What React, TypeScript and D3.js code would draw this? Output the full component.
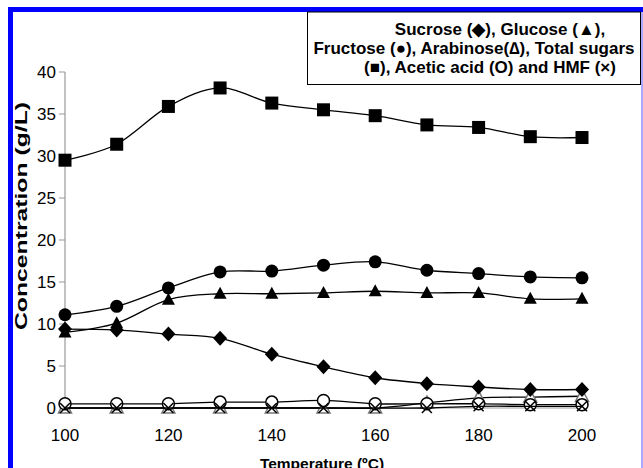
import React from "react";
import * as d3 from "d3";

const temps = [100, 110, 120, 130, 140, 150, 160, 170, 180, 190, 200];
const sucrose = [9.4, 9.3, 8.8, 8.3, 6.4, 4.9, 3.6, 2.9, 2.5, 2.2, 2.2];
const glucose = [9.0, 10.1, 12.9, 13.6, 13.6, 13.7, 13.9, 13.7, 13.7, 13.0, 13.0];
const fructose = [11.1, 12.1, 14.3, 16.2, 16.3, 17.0, 17.4, 16.4, 16.0, 15.6, 15.5];
const arabinose = [0, 0, 0, 0, 0, 0, 0, 0.6, 1.2, 1.3, 1.4];
const totalSugars = [29.5, 31.4, 35.9, 38.1, 36.3, 35.5, 34.8, 33.7, 33.4, 32.3, 32.2];
const aceticAcid = [0.5, 0.5, 0.5, 0.7, 0.7, 0.9, 0.5, 0.5, 0.5, 0.4, 0.4];
const hmf = [0, 0, 0, 0, 0, 0, 0, 0, 0.2, 0.2, 0.2];

const xTicks = [100, 120, 140, 160, 180, 200];
const yTicks = [0, 5, 10, 15, 20, 25, 30, 35, 40];
const legendLines = [
  "Sucrose (\u25C6), Glucose (\u25B2),",
  "Fructose (\u25CF), Arabinose(\u2206), Total sugars",
  "(\u25A0), Acetic acid (O) and HMF (\u00D7)",
];

const font = "'Liberation Sans', Arial, sans-serif";

type Kind = "square" | "circle" | "triangle" | "diamond" | "ocircle" | "otriangle" | "cross";

const series: { name: string; values: number[]; kind: Kind }[] = [
  { name: "Arabinose", values: arabinose, kind: "otriangle" },
  { name: "Acetic acid", values: aceticAcid, kind: "ocircle" },
  { name: "HMF", values: hmf, kind: "cross" },
  { name: "Sucrose", values: sucrose, kind: "diamond" },
  { name: "Glucose", values: glucose, kind: "triangle" },
  { name: "Fructose", values: fructose, kind: "circle" },
  { name: "Total sugars", values: totalSugars, kind: "square" },
];

function Marker({ kind, x, y }: { kind: Kind; x: number; y: number }) {
  switch (kind) {
    case "square":
      return <rect x={x - 6.5} y={y - 6.5} width={13} height={13} fill="#000" />;
    case "circle":
      return <circle cx={x} cy={y} r={6.5} fill="#000" />;
    case "triangle":
      return <path d={`M${x},${y - 7}L${x + 6.5},${y + 5}L${x - 6.5},${y + 5}Z`} fill="#000" />;
    case "diamond":
      return <path d={`M${x},${y - 7.5}L${x + 7},${y}L${x},${y + 7.5}L${x - 7},${y}Z`} fill="#000" />;
    case "ocircle":
      return <circle cx={x} cy={y} r={6} fill="#fff" stroke="#000" strokeWidth={1.5} />;
    case "otriangle":
      return (
        <path
          d={`M${x},${y - 7}L${x + 6.5},${y + 5}L${x - 6.5},${y + 5}Z`}
          fill="#fff"
          stroke="#777"
          strokeWidth={1.5}
        />
      );
    case "cross":
      return (
        <path
          d={`M${x - 5},${y - 5}L${x + 5},${y + 5}M${x + 5},${y - 5}L${x - 5},${y + 5}`}
          stroke="#000"
          strokeWidth={1.5}
        />
      );
  }
}

export default function App() {
  const width = 643;
  const height = 468;
  const x = d3.scaleLinear().domain([100, 200]).range([65, 582]);
  const y = d3.scaleLinear().domain([0, 40]).range([408, 72]);

  const line = d3
    .line<number>()
    .x((_, i) => x(temps[i]))
    .y((d) => y(d))
    .curve(d3.curveCardinal.tension(0));

  return (
    <svg
      width={width}
      height={height}
      style={{ position: "absolute", left: 0, top: 0, background: "#fff" }}
    >
      {/* frame */}
      <rect x={8} y={7} width={5} height={height - 7} fill="#0000ff" />
      <rect x={8} y={7} width={width - 8} height={5} fill="#0000ff" />
      <rect x={641} y={12} width={2} height={height - 12} fill="#aaaaff" />

      {/* y axis */}
      <line x1={65} x2={65} y1={y(40)} y2={y(0)} stroke="#999" strokeWidth={1.2} />
      {yTicks.map((t) => (
        <g key={t}>
          <line x1={59} x2={65} y1={y(t)} y2={y(t)} stroke="#999" strokeWidth={1} />
          <text
            x={56}
            y={y(t)}
            dy="0.36em"
            textAnchor="end"
            fontFamily={font}
            fontSize={17}
            fill="#000"
          >
            {t}
          </text>
        </g>
      ))}
      <line x1={65} x2={582} y1={y(0)} y2={y(0)} stroke="#999" strokeWidth={1.2} />
      {xTicks.map((t) => (
        <text
          key={t}
          x={x(t)}
          y={441}
          textAnchor="middle"
          fontFamily={font}
          fontSize={17}
          fill="#000"
        >
          {t}
        </text>
      ))}

      {/* axis titles */}
      <text
        transform={`translate(27,216) rotate(-90)`}
        textAnchor="middle"
        fontFamily={font}
        fontSize={16}
        fontWeight="bold"
        fill="#000"
        textLength={228}
        lengthAdjust="spacingAndGlyphs"
      >
        Concentration (g/L)
      </text>
      <text
        x={322}
        y={469}
        textAnchor="middle"
        fontFamily={font}
        fontSize={15.5}
        fontWeight="bold"
        fill="#000"
      >
        Temperature (ºC)
      </text>

      {/* series */}
      {series.map((s) => (
        <g key={s.name}>
          <path d={line(s.values) ?? ""} fill="none" stroke="#000" strokeWidth={1.3} />
          {s.values.map((v, i) => (
            <Marker key={i} kind={s.kind} x={x(temps[i])} y={y(v)} />
          ))}
        </g>
      ))}

      {/* legend */}
      <rect x={307.5} y={12} width={333} height={72.5} fill="#fff" stroke="#000" strokeWidth={1} />
      {legendLines.map((l, i) => (
        <text
          key={i}
          x={[500, 474, 490][i]}
          y={35 + i * 19}
          textAnchor="middle"
          fontFamily={font}
          fontSize={17}
          fontWeight="bold"
          fill="#000"
        >
          {l}
        </text>
      ))}
    </svg>
  );
}
